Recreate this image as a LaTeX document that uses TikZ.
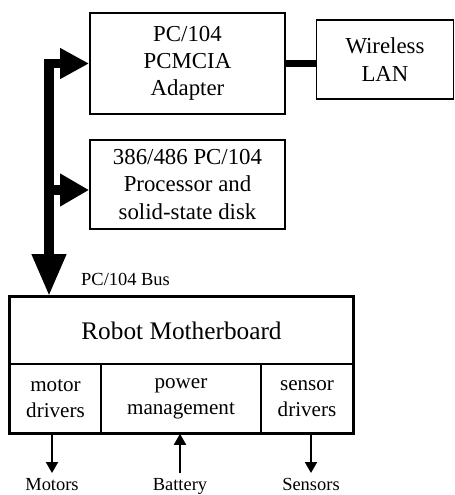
\documentclass[tikz,border=0pt]{standalone}
\usepackage{fontspec}
\setmainfont{Liberation Serif}
\usetikzlibrary{arrows.meta}

\begin{document}
\begin{tikzpicture}[x=0.02cm, y=-0.02cm,
	box/.style={draw, line width=1.1pt, align=center, inner sep=0pt, font=\fontsize{13}{15.5}\selectfont},
	part/.style={draw, line width=0.9pt, align=center, inner sep=0pt, minimum height=1.38cm, font=\fontsize{12}{15}\selectfont},
	lbl/.style={font=\fontsize{10.5}{12}\selectfont},
	bus/.style={line width=5.5pt},
	sig/.style={line width=1.1pt, arrows={-{Triangle[length=0.22cm, width=0.24cm]}}}]
	\useasboundingbox (0,0) rectangle (455,495);
	\node [box, minimum width=3.9cm, minimum height=2.02cm] (pcmcia) at (187.5,63.5) {PC/104\\PCMCIA\\Adapter};
	\node [box, minimum width=2.74cm, minimum height=1.58cm] (wlan) at (385,59.5) {Wireless\\LAN};
	\node [box, minimum width=3.9cm, minimum height=1.78cm] (cpu) at (187.5,184.5) {386/486 PC/104\\Processor and\\solid-state disk};
	\node [part, minimum width=6.86cm, minimum height=1.34cm, font=\fontsize{14.4}{17}\selectfont] (board) at (181.5,330.5) {Robot Motherboard};
	\node [part, minimum width=1.82cm] (motor) at (55.5,398.5) {motor\\drivers};
	\node [part, minimum width=3.2cm] (power) at (181,398.5) {power\\management};
	\node [part, minimum width=1.84cm] (sensor) at (307,398.5) {sensor\\drivers};
	\draw [line width=1.8pt] (board.north west) rectangle (sensor.south east);
	% bus
	\coordinate (bustop) at (49,63.5);
	\draw [bus, arrows={{Triangle[length=0.58cm, width=0.58cm]}-{Triangle[length=0.84cm, width=0.64cm]}}] (pcmcia.west) -- (bustop) -- (board.north -| bustop);
	\draw [bus, arrows={-{Triangle[length=0.58cm, width=0.62cm]}}] (bustop |- 0,190) -- ([yshift=-0.11cm]cpu.west);
	\node [lbl, anchor=base west] (buslbl) at (75,285) {PC/104 Bus};
	\draw [line width=4.5pt] (pcmcia.east) -- (pcmcia.east -| wlan.west);
	% outside world
	\node [lbl, anchor=north, inner sep=3pt] (motors) at (52,473) {Motors};
	\node [lbl, anchor=north, inner sep=3pt] (battery) at (180,473) {Battery};
	\node [lbl, anchor=north, inner sep=3pt] (sensors) at (311,473) {Sensors};
	\draw [sig] (motors.north |- motor.south) -- (motors.north);
	\draw [sig] (battery.north) -- (battery.north |- power.south);
	\draw [sig] (sensors.north |- sensor.south) -- (sensors.north);
\end{tikzpicture}
\end{document}
